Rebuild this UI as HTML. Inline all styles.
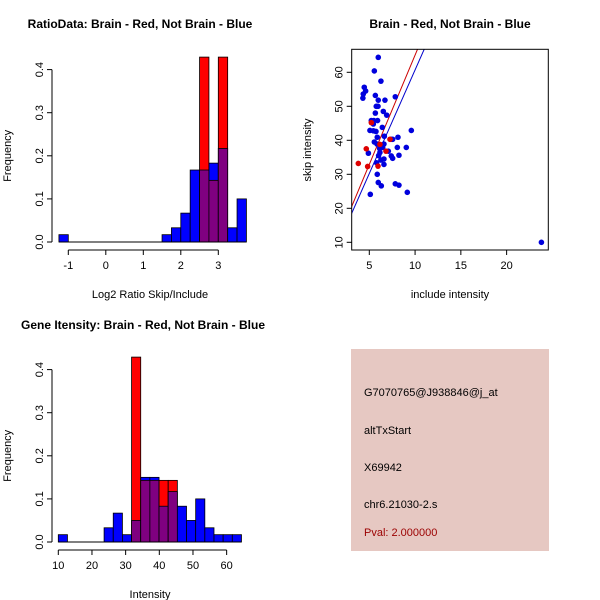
<!DOCTYPE html>
<html><head><meta charset="utf-8"><style>
body{margin:0;background:#fff}
svg{display:block;font-family:"Liberation Sans",sans-serif}
</style></head><body>
<svg id="s" width="600" height="600" viewBox="0 0 600 600" xmlns="http://www.w3.org/2000/svg">
<rect x="0" y="0" width="600" height="600" fill="#fff"/>
<g id="p1"></g>
<g id="p2"></g>
<g id="p3"></g>
<g>
<rect x="351" y="349" width="198" height="202" fill="#E6C8C2"/>
<text x="364" y="396" font-size="11" fill="#000">G7070765@J938846@j_at</text>
<text x="364" y="434" font-size="11" fill="#000">altTxStart</text>
<text x="364" y="471" font-size="11" fill="#000">X69942</text>
<text x="364" y="508" font-size="11" fill="#000">chr6.21030-2.s</text>
<text x="364" y="536" font-size="11" fill="#9B0000">Pval: 2.000000</text>
</g>
</svg>
<script>
// Histogram 1 data
const h1Start = -1.25, h1Width = 0.25;
const h1Blue = [0.017,0,0,0,0,0,0,0,0,0,0,0.017,0.033,0.067,0.167,0.167,0.183,0.217,0.033,0.1];
const h1Red  = [0,0,0,0,0,0,0,0,0,0,0,0,0,0,0,0.429,0.143,0.429,0,0];
const h1XTicks = [-1,0,1,2,3];
const h1YTicks = [0,0.1,0.2,0.3,0.4];
// Histogram 2 data
const h2Start = 10, h2Width = 2.72;
const h2Blue = [0.017,0,0,0,0,0.033,0.067,0.017,0.05,0.15,0.15,0.083,0.117,0.083,0.05,0.1,0.033,0.017,0.017,0.017];
const h2Red  = [0,0,0,0,0,0,0,0,0.429,0.143,0.143,0.143,0.143,0,0,0,0,0,0,0];
const h2XTicks = [10,20,30,40,50,60];
const h2YTicks = [0,0.1,0.2,0.3,0.4];
// Scatter data
const blueX = [5.98,5.55,6.27,4.45,4.6,4.34,4.3,5.66,6.71,5.98,7.84,5.76,5.95,6.53,6.9,5.66,5.22,5.5,5.9,5.44,6.42,5.07,5.44,5.73,9.59,5.87,6.64,8.13,7.55,7.37,5.55,5.84,6.6,8.06,9.04,6.13,6.46,7.08,6.16,4.9,6.02,8.24,7.4,7.55,6.6,6.27,5.8,6.6,5.87,5.98,7.84,8.24,6.31,9.15,5.11,23.8];
const blueY = [64.4,60.4,57.4,55.6,54.5,53.6,52.4,53.2,51.8,51.8,52.8,50,50,48.5,47.4,48,45.8,45.8,45.8,44.8,43.8,42.9,42.8,42.6,42.9,40.9,41.2,40.9,40.3,40.3,39.5,38.9,38.9,37.9,37.9,37.6,37.9,36.8,36.4,36.2,35.5,35.6,35.4,34.7,34.5,34.2,33.4,32.9,30,27.6,27.2,26.8,26.6,24.7,24.1,10];
const redX = [3.8,4.67,4.82,5.95,5.22,7.26,6.82,6.16];
const redY = [33.2,37.5,32.3,32.4,45.2,40.3,36.8,38.8];
const lineIntercepts = [0.76, -0.2];   // red, blue
const lineSlopes = [6.43, 6.09];
const scXTicks = [5,10,15,20];
const scYTicks = [10,20,30,40,50,60];

const NS='http://www.w3.org/2000/svg';
function mk(parent,tag,attrs,text){const e=document.createElementNS(NS,tag);for(const k in attrs)e.setAttribute(k,attrs[k]);if(text!==undefined)e.textContent=text;parent.appendChild(e);return e;}

function hist(g,opt){
  const sx=v=>opt.x0+(v-opt.xv0)*opt.xk;
  const sy=v=>opt.y0-v*opt.yk;
  const n=opt.blue.length;
  for(let i=0;i<n;i++){
    const a=opt.start+i*opt.width,b=a+opt.width;
    const x=sx(a),w=sx(b)-sx(a);
    const bv=opt.blue[i],rv=opt.red[i];
    const m=Math.min(bv,rv),M=Math.max(bv,rv);
    if(M<=0){continue;}
    const top=M>bv?'#FF0000':'#0000FF';
    let r=mk(g,'rect',{x:x,y:sy(M),width:w,height:sy(0)-sy(M),fill:top,stroke:'#000','stroke-width':0.8});
    
    
    if(m>0){
      let o=mk(g,'rect',{x:x,y:sy(m),width:w,height:sy(0)-sy(m),fill:'#7F0080',stroke:'#000','stroke-width':0.8});
      
      
    }
  }
  const base=mk(g,'line',{x1:sx(opt.start),x2:sx(opt.start+n*opt.width),y1:sy(0),y2:sy(0),stroke:'#000'});
  
  
  const ay=opt.y0+8;
  mk(g,'line',{x1:sx(opt.xt[0]),x2:sx(opt.xt[opt.xt.length-1]),y1:ay,y2:ay,stroke:'#000'});
  opt.xt.forEach(t=>{mk(g,'line',{x1:sx(t),x2:sx(t),y1:ay,y2:ay+5,stroke:'#000'});
    const tx=mk(g,'text',{x:sx(t),y:ay+19,'font-size':11,'text-anchor':'middle'},String(t));
    
    });
  const ax=opt.x0a;
  mk(g,'line',{x1:ax,x2:ax,y1:sy(opt.yt[0]),y2:sy(opt.yt[opt.yt.length-1]),stroke:'#000'});
  opt.yt.forEach(t=>{mk(g,'line',{x1:ax,x2:ax-5,y1:sy(t),y2:sy(t),stroke:'#000'});
    const tx=mk(g,'text',{x:ax-9,y:sy(t),'font-size':11,'text-anchor':'middle',transform:`rotate(-90 ${ax-9} ${sy(t)})`},t.toFixed(1));
    
    });
  const t1=mk(g,'text',{x:opt.tx,y:opt.ty,'font-size':12,'font-weight':'bold','text-anchor':'middle'},opt.title);
  
  
  const t2=mk(g,'text',{x:opt.xlx,y:opt.xly,'font-size':11,'text-anchor':'middle'},opt.xlab);
  
  
  const my=(sy(0)+sy(0.4))/2;
  const t3=mk(g,'text',{x:11,y:my,'font-size':11,'text-anchor':'middle',transform:`rotate(-90 11 ${my})`},'Frequency');
  
  
}

hist(document.getElementById('p1'),{x0:68.3,xv0:-1,xk:37.5,y0:242,yk:431,blue:h1Blue,red:h1Red,start:h1Start,width:h1Width,xt:h1XTicks,yt:h1YTicks,x0a:52,title:'RatioData: Brain - Red, Not Brain - Blue',tx:140,ty:28,xlab:'Log2 Ratio Skip/Include',xlx:150,xly:298});
hist(document.getElementById('p3'),{x0:58.3,xv0:10,xk:3.367,y0:542,yk:431,blue:h2Blue,red:h2Red,start:h2Start,width:h2Width,xt:h2XTicks,yt:h2YTicks,x0a:52,title:'Gene Itensity: Brain - Red, Not Brain - Blue',tx:143,ty:329,xlab:'Intensity',xlx:150,xly:598});

// scatter
(function(){
  const g=document.getElementById('p2');
  const L=351.7,R=548.3,T=49.3,B=250;
  const sx=v=>369.3+(v-5)*9.155;
  const sy=v=>242.3-(v-10)*3.4;
  mk(g,'clipPath',{id:'cp'}).appendChild(document.createElementNS(NS,'rect'));
  const cr=g.querySelector('#cp rect');cr.setAttribute('x',L);cr.setAttribute('y',T);cr.setAttribute('width',R-L);cr.setAttribute('height',B-T);
  const lc=['#CC0000','#0000CC'];
  for(let i=0;i<lineSlopes.length;i++){
    const xa=2,xb=25;
    const l=mk(g,'line',{x1:sx(xa),y1:sy(lineIntercepts[i]+lineSlopes[i]*xa),x2:sx(xb),y2:sy(lineIntercepts[i]+lineSlopes[i]*xb),stroke:lc[i],'stroke-width':1,'clip-path':'url(#cp)'});
    
    
  }
  for(let i=0;i<blueX.length;i++){
    const c=mk(g,'circle',{cx:sx(blueX[i]),cy:sy(blueY[i]),r:2.8,fill:'#0000DD'});
    
    
  }
  for(let i=0;i<redX.length;i++){
    const c=mk(g,'circle',{cx:sx(redX[i]),cy:sy(redY[i]),r:2.8,fill:'#DD0000'});
    
    
  }
  const box=mk(g,'rect',{x:L,y:T,width:R-L,height:B-T,fill:'none',stroke:'#000'});
  
  
  scXTicks.forEach(t=>{mk(g,'line',{x1:sx(t),x2:sx(t),y1:B,y2:B+5,stroke:'#000'});
    const tx=mk(g,'text',{x:sx(t),y:B+19,'font-size':11,'text-anchor':'middle'},String(t));
    
    });
  scYTicks.forEach(t=>{mk(g,'line',{x1:L,x2:L-5,y1:sy(t),y2:sy(t),stroke:'#000'});
    const tx=mk(g,'text',{x:L-9,y:sy(t),'font-size':11,'text-anchor':'middle',transform:`rotate(-90 ${L-9} ${sy(t)})`},String(t));
    
    });
  const t1=mk(g,'text',{x:450,y:28,'font-size':12,'font-weight':'bold','text-anchor':'middle'},'Brain - Red, Not Brain - Blue');
  
  
  const t2=mk(g,'text',{x:450,y:298,'font-size':11,'text-anchor':'middle'},'include intensity');
  
  
  const t3=mk(g,'text',{x:311,y:150,'font-size':11,'text-anchor':'middle',transform:'rotate(-90 311 150)'},'skip intensity');
  
  
})();
</script>
</body></html>
